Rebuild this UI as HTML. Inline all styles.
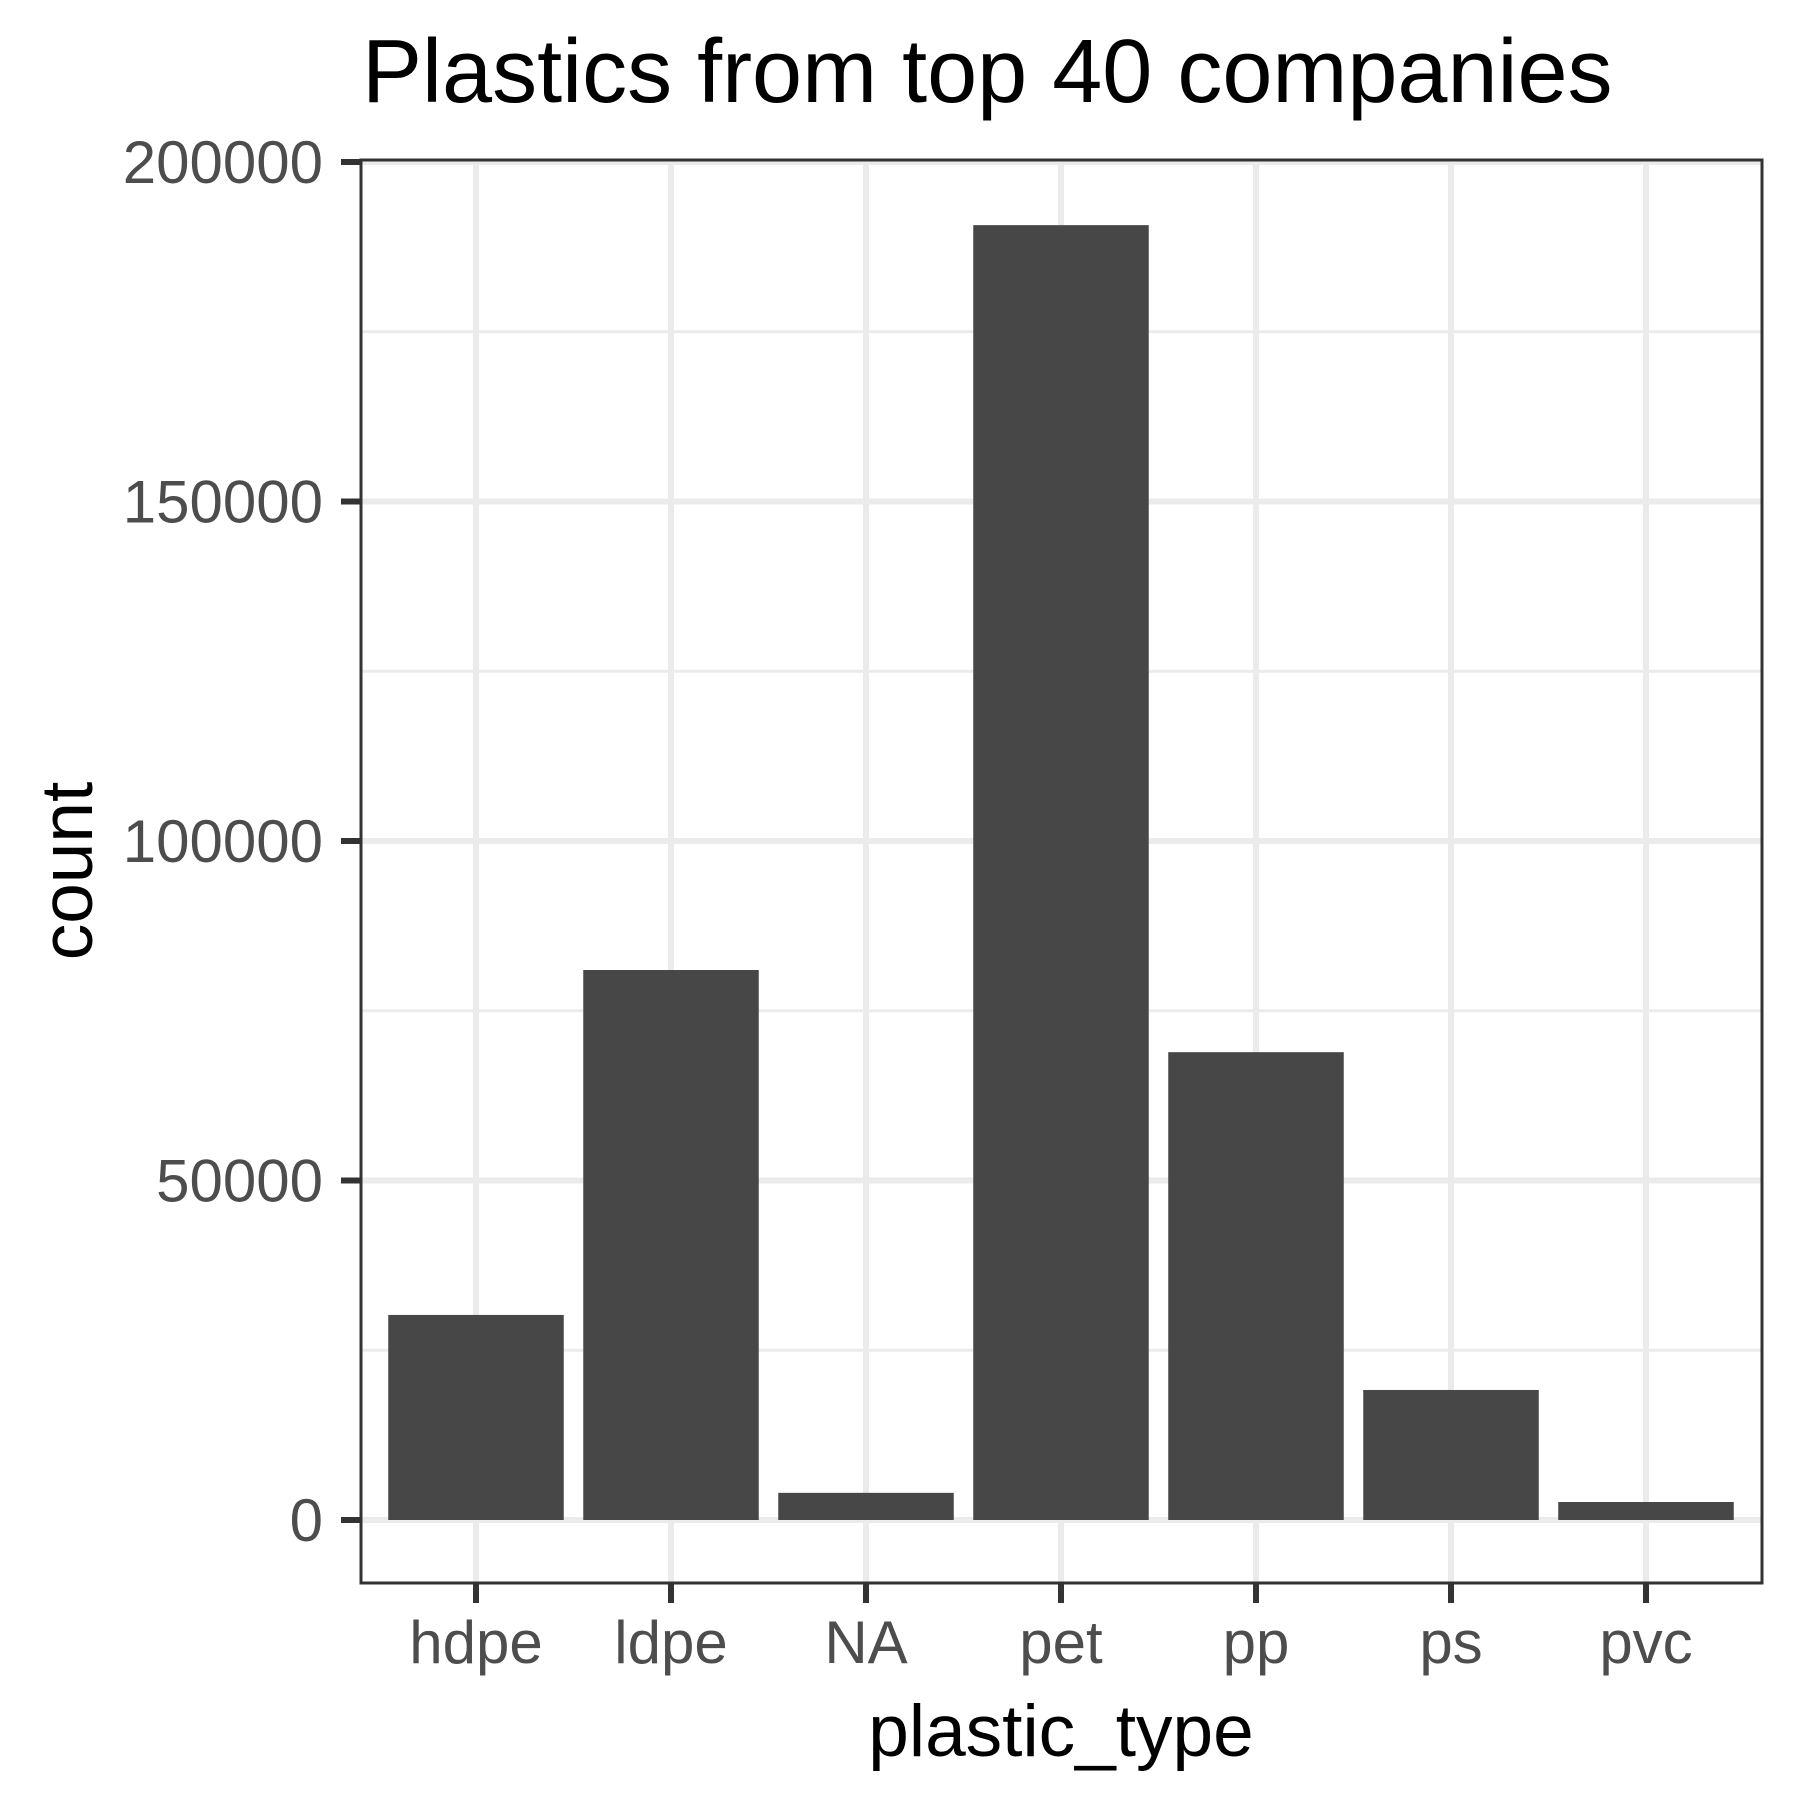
<!DOCTYPE html>
<html><head><meta charset="utf-8"><style>html,body{margin:0;padding:0;background:#fff}svg{display:block}text{font-family:"Liberation Sans",Arial,sans-serif}</style></head>
<body>
<svg id="chart" width="1800" height="1800" viewBox="0 0 1800 1800" xmlns="http://www.w3.org/2000/svg">
<rect width="1800" height="1800" fill="#fff"/>
<g id="grid"></g>
<g id="bars"></g>
<rect x="361" y="160" width="1401" height="1423" fill="none" stroke="#333" stroke-width="3"/>
<g id="axes"></g>
<text x="362" y="102" font-size="90" fill="#000">Plastics from top 40 companies</text>
<text x="1061" y="1756" font-size="73" fill="#000" text-anchor="middle">plastic_type</text>
<text transform="translate(92,871) rotate(-90)" font-size="73" fill="#000" text-anchor="middle">count</text>
</svg>
<script>
const categories = ["hdpe","ldpe","NA","pet","pp","ps","pvc"];
const counts = [30200, 81000, 4000, 190700, 68900, 19150, 2650];
const yTicks = [0, 50000, 100000, 150000, 200000];
const yTickLabels = ["0","50000","100000","150000","200000"];
const yMinor = [25000, 75000, 125000, 175000];

const NS = "http://www.w3.org/2000/svg";
const pLeft = 361, pRight = 1762, pTop = 160, pBottom = 1583;
const y0 = 1520, y200k = 162;
function yScale(v){ return y0 - (v/200000)*(y0 - y200k); }
const step = 195, x0 = 476;
function xScale(i){ return x0 + i*step; }
const barW = 0.9*step;
function mk(tag, attrs, parent){ const e=document.createElementNS(NS,tag); for(const k in attrs) e.setAttribute(k,attrs[k]); parent.appendChild(e); return e; }
const grid=document.getElementById('grid'), bars=document.getElementById('bars'), axes=document.getElementById('axes');

yMinor.forEach(v=>{
  const l=mk('line',{x1:pLeft,x2:pRight,y1:yScale(v),y2:yScale(v),stroke:'#ebebeb','stroke-width':3},grid);
  
  
});
yTicks.forEach((v,i)=>{
  const y=yScale(v);
  const l=mk('line',{x1:pLeft,x2:pRight,y1:y,y2:y,stroke:'#ebebeb','stroke-width':6},grid);
  
  
  const t=mk('line',{x1:pLeft-20,x2:pLeft,y1:y,y2:y,stroke:'#333','stroke-width':6},axes);
  
  
  const tx=mk('text',{x:323,y:y+21,'font-size':60,fill:'#4d4d4d','text-anchor':'end'},axes);
  tx.textContent=yTickLabels[i];
  
  
});
categories.forEach((c,i)=>{
  const x=xScale(i);
  const l=mk('line',{x1:x,x2:x,y1:pTop,y2:pBottom,stroke:'#ebebeb','stroke-width':6},grid);
  
  
  const b=mk('rect',{x:x-barW/2,y:yScale(counts[i]),width:barW,height:y0-yScale(counts[i]),fill:'#474747'},bars);
  
  
  const t=mk('line',{x1:x,x2:x,y1:pBottom,y2:pBottom+20,stroke:'#333','stroke-width':6},axes);
  
  
  const tx=mk('text',{x:x,y:1663,'font-size':60,fill:'#4d4d4d','text-anchor':'middle'},axes);
  tx.textContent=c;
  
  
});
</script>
</body></html>
